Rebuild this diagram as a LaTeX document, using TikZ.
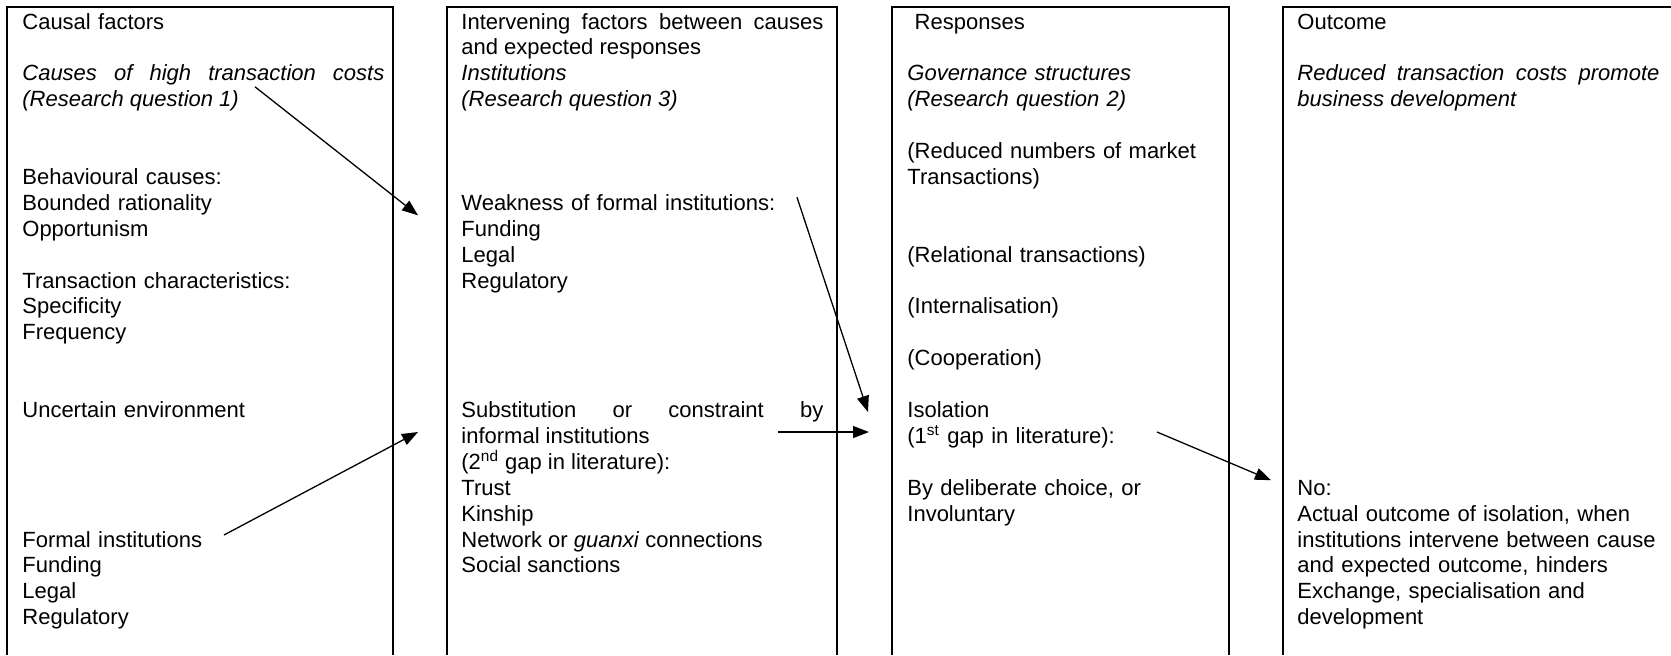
\documentclass[tikz,border=0pt]{standalone}
\usepackage{fontspec}
\setmainfont{Liberation Sans}
\usetikzlibrary{arrows.meta}
\newcommand{\fs}{\fontsize{11pt}{12.95pt}\selectfont}

\begin{document}
\begin{tikzpicture}[x=0.5pt,y=-0.5pt,
    colbox/.style={line width=1pt},
    txt/.style={anchor=base west,inner sep=0pt,font=\fs,text width=181pt},
    just/.style={txt,align=justify},
    it/.style={txt,font=\fs\itshape},
    arr/.style={-{Triangle[length=8pt,width=6pt]},line width=0.65pt}]
\useasboundingbox (0,0) rectangle (1671,655);

% the four columns (open at the bottom)
\draw[colbox] (7,655) |- (393,7) -- (393,655);
\draw[colbox] (447,655) |- (837,7) -- (837,655);
\draw[colbox] (892,655) |- (1229,7) -- (1229,655);
\draw[colbox] (1283,655) |- (1672,7);

% causal factors
\node[txt] (c1head) at (22,29) {Causal factors};
\node[it,align=justify] (c1cause) at (22,80.8) {Causes of high transaction costs\break (Research question 1)};
\node[txt] (c1beh) at (22,184.4) {Behavioural causes:\\ Bounded rationality\\ Opportunism};
\node[txt] (c1trans) at (22,288) {Transaction characteristics:\\ Specificity\\ Frequency};
\node[txt] (c1unc) at (22,417.5) {Uncertain environment};
\node[txt] (c1formal) at (22,547) {Formal institutions\\ Funding\\ Legal\\ Regulatory};

% intervening factors
\node[just] (c2head) at (461,29) {Intervening factors between causes\break and expected responses\\
    \textit{Institutions}\\ \textit{(Research question 3)}};
\node[txt] (c2weak) at (461,210.3) {Weakness of formal institutions:\\ Funding\\ Legal\\ Regulatory};
\node[just] (c2subst) at (461,417.5) {Substitution or constraint by\break informal institutions\\
    (2\textsuperscript{nd} gap in literature):\\ Trust\\ Kinship\\
    Network or \textit{guanxi} connections\\ Social sanctions};

% responses
\node[txt] (c3head) at (907,29) {\ Responses};
\node[it] (c3gov) at (907,80.8) {Governance structures\\ (Research question 2)};
\node[txt] (c3red) at (907,158.5) {(Reduced numbers of market\\ Transactions)};
\node[txt] (c3rel) at (907,262.1) {(Relational transactions)};
\node[txt] (c3int) at (907,313.9) {(Internalisation)};
\node[txt] (c3coop) at (907,365.7) {(Cooperation)};
\node[txt] (c3iso) at (907,417.5) {Isolation\\ (1\textsuperscript{st} gap in literature):};
\node[txt] (c3choice) at (907,495.2) {By deliberate choice, or\\ Involuntary};

% outcome
\node[txt] (c4head) at (1297,29) {Outcome};
\node[it,align=justify] (c4red) at (1297,80.8) {Reduced transaction costs promote\break business development};
\node[txt,text width=183pt] (c4no) at (1297,495.2) {No:\\ Actual outcome of isolation, when\\
    institutions intervene between cause\\ and expected outcome, hinders\\
    Exchange, specialisation and\\ development};

\draw[arr] ([shift={(233,6)}]c1cause.base west) -- ([shift={(-43,5)}]c2weak.base west);
\draw[arr] ([shift={(202,-12)}]c1formal.base west) -- ([shift={(-43,14.5)}]c2subst.base west);
\draw[arr] ([shift={(336,-13)}]c2weak.base west) -- ([shift={(-39,-5.5)}]c3iso.base west);
\draw[arr] ([shift={(317,14.5)}]c2subst.base west) -- ([shift={(-38,14.5)}]c3iso.base west);
\draw[arr] ([shift={(250,14.5)}]c3iso.base west) -- ([shift={(-26,-15)}]c4no.base west);
\end{tikzpicture}
\end{document}
